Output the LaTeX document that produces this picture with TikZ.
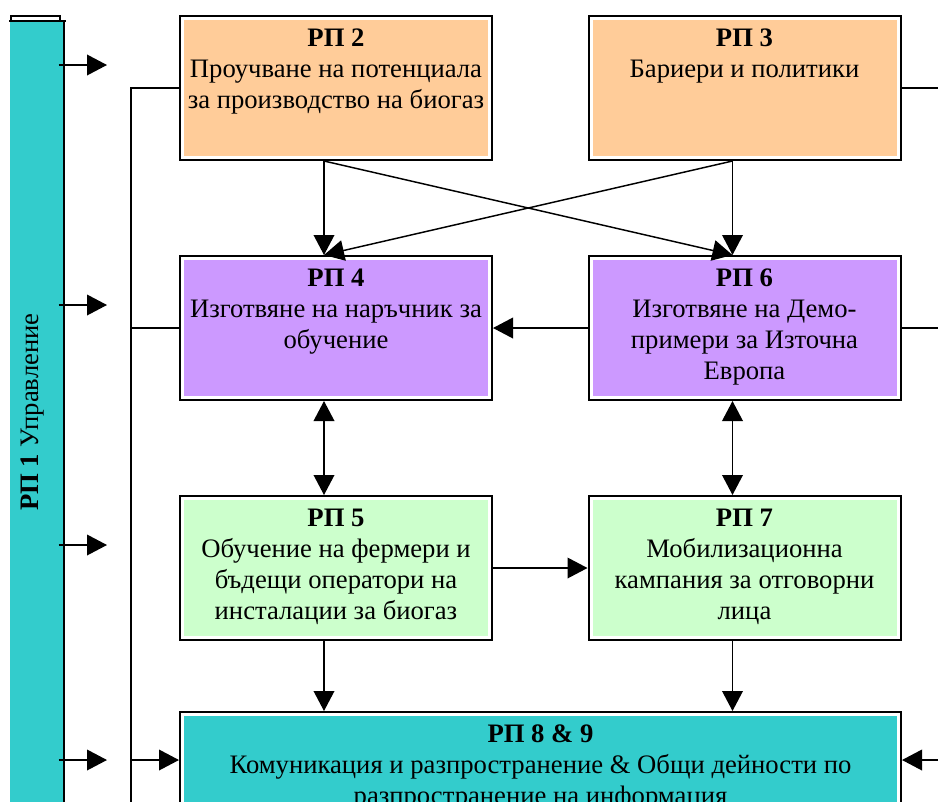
\documentclass[tikz,border=0pt]{standalone}
\usepackage{fontspec}
\setmainfont{Liberation Serif}
\usetikzlibrary{arrows.meta,positioning}

\definecolor{wporange}{HTML}{FFCC99}
\definecolor{wppurple}{HTML}{CC99FF}
\definecolor{wpgreen}{HTML}{CCFFCC}
\definecolor{wpcyan}{HTML}{33CCCC}

\begin{document}
\begin{tikzpicture}[x=0.75pt, y=-0.75pt, line width=1.1pt,
	>={Triangle[length=15pt, width=15.5pt]},
	wp/.style={draw, line width=1.5pt, fill=white, inner sep=0pt,
		minimum width=234pt, minimum height=108pt,
		path picture={\fill[#1] ([shift={(3pt,-3pt)}]path picture bounding box.north west)
			rectangle ([shift={(-3pt,3pt)}]path picture bounding box.south east);}},
	t/.style={font=\fontsize{20}{23.25}\selectfont, align=center, inner sep=0pt}]
	\clip (0,0) rectangle (938,801);

	% left bar
	\node[fill=wpcyan, inner sep=0pt, minimum width=40pt, minimum height=607pt] (wp1) at (36.5,425.5) {};
	\draw[line width=1.5pt] (wp1.north east) -- (wp1.south east);
	\draw[fill=white] (11,16) rectangle (60,20.5);
	\draw[line width=1.5pt] (9,20.5) -- (66,20.5);
	\node[t, rotate=90] (wp1t) at (33,412) {\textbf{РП 1} Управление};

	% boxes
	\node[wp=wporange] (wp2) at (336,88) {};
	\node[wp=wporange] (wp3) at (744.5,88) {};
	\node[wp=wppurple] (wp4) at (336,328) {};
	\node[wp=wppurple] (wp6) at (744.5,328) {};
	\node[wp=wpgreen] (wp5) at (336,568) {};
	\node[wp=wpgreen] (wp7) at (744.5,568) {};
	\node[wp=wpcyan, minimum width=540.75pt] (wp89) at (540.5,784) {};

	\node[t, below=10pt of wp2.north] (wp2t) {\textbf{РП 2}\\Проучване на потенциала\\за производство на биогаз};
	\node[t, below=10pt of wp3.north] (wp3t) {\textbf{РП 3}\\Бариери и политики};
	\node[t, below=10pt of wp4.north] (wp4t) {\textbf{РП 4}\\Изготвяне на наръчник за\\обучение};
	\node[t, below=10pt of wp6.north] (wp6t) {\textbf{РП 6}\\Изготвяне на Демо-\\примери за Източна\\Европа};
	\node[t, below=10pt of wp5.north] (wp5t) {\textbf{РП 5}\\Обучение на фермери и\\бъдещи оператори на\\инсталации за биогаз};
	\node[t, below=10pt of wp7.north] (wp7t) {\textbf{РП 7}\\Мобилизационна\\кампания за отговорни\\лица};
	\node[t, below=10pt of wp89.north] (wp89t) {\textbf{РП 8 \& 9}\\Комуникация и разпространение \& Общи дейности по\\разпространение на информация};

	% arrows out of the bar
	\coordinate (m2) at (107,65);
	\coordinate (m4) at (107,305);
	\coordinate (m5) at (107,545);
	\coordinate (m89) at (107,760);
	\foreach \m in {m2,m4,m5,m89}
		\draw[->] ([xshift=-4pt]\m -| wp1.east) -- (\m);

	% links between the boxes
	\draw[->] ([xshift=-9pt]wp2.south) -- ([xshift=-9pt]wp4.north);
	\draw[->] ([xshift=-9pt]wp2.south) -- ([xshift=-9pt]wp6.north);
	\draw[->] ([xshift=-9pt]wp3.south) -- ([xshift=-9pt]wp6.north);
	\draw[->] ([xshift=-9pt]wp3.south) -- ([xshift=-9pt]wp4.north);
	\draw[->] (wp6) -- (wp4);
	\draw[<->] ([xshift=-9pt]wp4.south) -- ([xshift=-9pt]wp5.north);
	\draw[<->] ([xshift=-9pt]wp6.south) -- ([xshift=-9pt]wp7.north);
	\draw[->] (wp5) -- (wp7);
	\draw[->] ([xshift=-9pt]wp5.south) -- ([xshift=-9pt]wp5.south |- wp89.north);
	\draw[->] ([xshift=-9pt]wp7.south) -- ([xshift=-9pt]wp7.south |- wp89.north);

	% side lines
	\coordinate (bus) at (131,0);
	\draw[->] (wp2.west) -| (bus |- wp89t.south) |- ([yshift=18pt]wp89.west);
	\draw (wp4.west) -- (bus |- wp4.west);
	\coordinate (r3) at (950,88);
	\coordinate (r6) at (950,328);
	\coordinate (r89) at (950,760);
	\draw (wp3.east) -- (r3);
	\draw (wp6.east) -- (r6);
	\draw[->] (r89) -- (r89 -| wp89.east);
\end{tikzpicture}
\end{document}
